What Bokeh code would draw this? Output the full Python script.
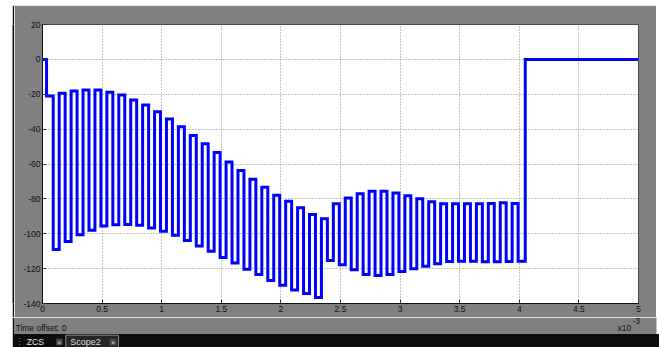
from bokeh.plotting import figure
from bokeh.models import NumeralTickFormatter, FixedTicker, Range1d, Spacer
from bokeh.layouts import row, column
from bokeh.core.properties import value
from bokeh.embed import file_html
from bokeh.resources import INLINE

# ---- data (time in units of 1e-3 s) ----
x_ticks = [0, 0.5, 1, 1.5, 2, 2.5, 3, 3.5, 4, 4.5, 5]
y_ticks = [20, 0, -20, -40, -60, -80, -100, -120, -140]

start_level = 0.0
hold_start = 0.034
hold_level = -21.0
first_low_start = 0.09
first_low_level = -109.0

rise_times = [0.14, 0.24, 0.34, 0.44, 0.54, 0.64, 0.74, 0.84, 0.94, 1.04,
              1.14, 1.24, 1.34, 1.44, 1.54, 1.64, 1.74, 1.84, 1.94, 2.04,
              2.14, 2.24, 2.34, 2.44, 2.54, 2.64, 2.74, 2.84, 2.94, 3.04,
              3.14, 3.24, 3.34, 3.44, 3.54, 3.64, 3.74, 3.84, 3.94]
fall_times = [0.19, 0.29, 0.39, 0.49, 0.59, 0.69, 0.79, 0.89, 0.99, 1.09,
              1.19, 1.29, 1.39, 1.49, 1.59, 1.69, 1.79, 1.89, 1.99, 2.09,
              2.19, 2.29, 2.39, 2.49, 2.59, 2.69, 2.79, 2.89, 2.99, 3.09,
              3.19, 3.29, 3.39, 3.49, 3.59, 3.69, 3.79, 3.89, 3.99]
top_levels = [-19.4, -18.2, -17.5, -17.5, -18.8, -20.5, -23.3, -26.2, -30.1, -34.2,
              -38.7, -43.7, -48.4, -53.4, -58.9, -63.7, -68.7, -73.3, -77.9, -81.3,
              -85.1, -88.9, -91.4, -82.8, -79.5, -77.1, -75.6, -75.6, -76.7, -78.2,
              -79.9, -81.7, -82.8, -82.8, -82.8, -82.8, -82.6, -82.2, -82.6]
bottom_levels = [-104.5, -100.6, -98.0, -95.6, -94.8, -94.7, -95.1, -96.7, -98.6, -100.8,
                 -103.9, -107.0, -110.1, -113.6, -116.8, -120.4, -123.4, -126.8, -129.6, -132.3,
                 -134.3, -136.5, -115.3, -117.8, -120.6, -123.3, -123.9, -123.3, -121.6, -120.1,
                 -118.6, -117.2, -115.9, -115.7, -115.7, -116.1, -116.1, -115.9, -115.7]
off_time = 4.05
off_level = 0.0
end_time = 5.0

time_offset_text = "Time offset:  0"
exp_base_text = "x10"
exp_text = "-3"
tab_names = ["ZCS", "Scope2"]

edges = [0.0, hold_start, first_low_start]
levels = [start_level, hold_level, first_low_level]
for r, f, hi, lo in zip(rise_times, fall_times, top_levels, bottom_levels):
    edges += [r, f]
    levels += [hi, lo]
edges += [off_time, end_time]
levels += [off_level, off_level]

FONT = "Liberation Sans"
GRAY = "#808080"

# ---- main scope axes ----
p = figure(width=642, height=312, output_backend="svg", toolbar_location=None,
           x_range=Range1d(0, 5), y_range=Range1d(-140, 20),
           min_border_left=28, min_border_right=18, min_border_top=19, min_border_bottom=14,
           background_fill_color="white", border_fill_color=GRAY,
           outline_line_color="#4a4a4a", outline_line_width=1)

p.step(x=edges, y=levels, mode="after", line_color="#0000ff", line_width=3,
       line_join="miter")

for ax in (p.xaxis[0], p.yaxis[0]):
    ax.major_tick_in = 4
    ax.major_tick_out = 0
    ax.minor_tick_line_color = None
    ax.axis_line_color = "#111111"
    ax.major_tick_line_color = "#333333"
    ax.major_label_text_font = FONT
    ax.major_label_text_font_size = "8.5px"
    ax.major_label_text_color = "#111111"
    ax.major_label_standoff = 2

p.xaxis[0].ticker = FixedTicker(ticks=x_ticks)
p.yaxis[0].ticker = FixedTicker(ticks=y_ticks)
p.xaxis[0].formatter = NumeralTickFormatter(format="0.[0]")
p.yaxis[0].formatter = NumeralTickFormatter(format="0")

for g in (p.xgrid[0], p.ygrid[0]):
    g.grid_line_color = "#8a8a8a"
    g.grid_line_dash = "1 2"
    g.grid_line_width = 1
p.xgrid[0].ticker = FixedTicker(ticks=x_ticks)
p.ygrid[0].ticker = FixedTicker(ticks=y_ticks)


def panel(w, h, bg):
    return figure(width=w, height=h, output_backend="svg", toolbar_location=None,
                  x_range=Range1d(0, w), y_range=Range1d(h, 0), min_border=0,
                  x_axis_type=None, y_axis_type=None,
                  background_fill_color=bg, border_fill_color=bg, outline_line_color=None)


def put_text(f, x, y, txt, size, color, align="left"):
    f.text(x=[x], y=[y], text=[txt], text_font=value(FONT), text_font_size=value(size),
           text_color=color, text_align=align, text_baseline="middle")


# ---- window edge beside the axes ----
edge = panel(2, 312, "#111111")

# ---- bottom panel: time offset strip + tab bar ----
bottom = panel(647, 30, "white")
bottom.quad(left=[0], right=[2], top=[0], bottom=[17], fill_color="#111111", line_color=None)
bottom.quad(left=[2], right=[644], top=[0], bottom=[17], fill_color=GRAY, line_color=None)
bottom.quad(left=[0], right=[647], top=[16.5], bottom=[30], fill_color="#0c0c0c", line_color=None)
bottom.quad(left=[53.3], right=[106], top=[17.7], bottom=[30.5], fill_color="#262626",
            line_color="#8a8a8a", line_width=1)
bottom.quad(left=[44.3, 97.7], right=[49.5, 103.3], top=[21.7, 21.7], bottom=[27.3, 27.3],
            fill_color="#3a3a3a", line_color="#555555", line_width=1)

put_text(bottom, 3, 10, time_offset_text, "8.5px", "#111111")
put_text(bottom, 605, 10.5, exp_base_text, "8.5px", "#111111")
put_text(bottom, 620, 3.5, exp_text, "8.5px", "#111111")
put_text(bottom, 6.5, 24.5, "\u22ee", "9px", "#8a8a8a", "center")
put_text(bottom, 14.3, 24.7, tab_names[0], "8.5px", "#e6e6e6")
put_text(bottom, 57.7, 24.7, tab_names[1], "9px", "#dcdcdc")
put_text(bottom, 46.9, 24.6, "\u00d7", "7px", "#dddddd", "center")
put_text(bottom, 100.5, 24.6, "\u00d7", "7px", "#dddddd", "center")

layout = column(
    Spacer(width=659, height=5),
    row(Spacer(width=12, height=312), edge, p),
    row(Spacer(width=12, height=30), bottom),
)

open("out.html", "w").write(file_html(layout, INLINE))
